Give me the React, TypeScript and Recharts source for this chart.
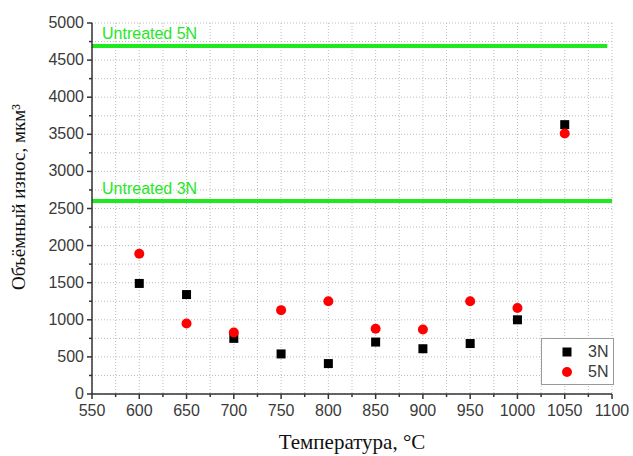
import React from "react";
import {
  ScatterChart,
  Scatter,
  XAxis,
  YAxis,
  CartesianGrid,
  ReferenceLine,
} from "recharts";

// температура, °C
const temperatures = [600, 650, 700, 750, 800, 850, 900, 950, 1000, 1050];
// объёмный износ, мкм³
const wear3N = [1490, 1340, 750, 540, 410, 700, 610, 680, 1000, 3630];
const wear5N = [1890, 950, 830, 1130, 1250, 880, 870, 1250, 1160, 3510];

const untreated5N = 4690;
const untreated3N = 2600;

const xTicks: number[] = [];
for (let t = 550; t <= 1100; t += 25) xTicks.push(t);
const yTicks: number[] = [];
for (let v = 0; v <= 5000; v += 250) yTicks.push(v);

const data3N = temperatures.map((x, i) => ({ x, y: wear3N[i] }));
const data5N = temperatures.map((x, i) => ({ x, y: wear5N[i] }));

const GREEN = "#1ee81e";
const AXIS = "#333";
const TICK_FONT = "'Liberation Sans', Arial, sans-serif";
const SERIF = "'Liberation Serif', 'Times New Roman', serif";

const XTick = (props: any) => {
  const { x, y, payload } = props;
  const major = payload.value % 50 === 0;
  return (
    <g>
      <line x1={x} y1={y} x2={x} y2={y + (major ? 5 : 3)} stroke={AXIS} strokeWidth={1.5} />
      {major && (
        <text x={x} y={y + 22} textAnchor="middle" fontSize={16} fill="#3a3a3a" fontFamily={TICK_FONT}>
          {payload.value}
        </text>
      )}
    </g>
  );
};

const YTick = (props: any) => {
  const { x, y, payload } = props;
  const major = payload.value % 500 === 0;
  return (
    <g>
      <line x1={x} y1={y} x2={x - (major ? 5 : 3)} y2={y} stroke={AXIS} strokeWidth={1.5} />
      {major && (
        <text x={x - 8} y={y + 5} textAnchor="end" fontSize={16} fill="#3a3a3a" fontFamily={TICK_FONT}>
          {payload.value}
        </text>
      )}
    </g>
  );
};

const Square = (props: any) => {
  const { cx, cy } = props;
  return <rect x={cx - 4.5} y={cy - 4.5} width={9} height={9} fill="#000" />;
};

const Dot = (props: any) => {
  const { cx, cy } = props;
  return <circle cx={cx} cy={cy} r={5} fill="#ff0000" />;
};

const lineLabel = (text: string) => (props: any) => {
  const { viewBox } = props;
  return (
    <text x={viewBox.x + 10} y={viewBox.y - 7} fontSize={16} fill={GREEN} fontFamily={TICK_FONT}>
      {text}
    </text>
  );
};

export default function App() {
  return (
    <div style={{ position: "absolute", left: 0, top: 0, width: 633, height: 456, background: "#fff" }}>
      <ScatterChart width={633} height={456} margin={{ top: 23, right: 21, bottom: 32, left: 42 }}>
        <CartesianGrid stroke="#bdbdbd" strokeDasharray="1 2" />
        <XAxis
          type="number"
          dataKey="x"
          domain={[550, 1100]}
          ticks={xTicks}
          interval={0}
          tickSize={0}
          tickMargin={0}
          tickLine={false}
          tick={<XTick />}
          height={30}
          axisLine={{ stroke: AXIS, strokeWidth: 1.5 }}
          allowDataOverflow
        />
        <YAxis
          type="number"
          dataKey="y"
          domain={[0, 5000]}
          ticks={yTicks}
          interval={0}
          tickSize={0}
          tickMargin={0}
          tickLine={false}
          tick={<YTick />}
          width={50}
          axisLine={{ stroke: AXIS, strokeWidth: 1.5 }}
          allowDataOverflow
        />
        <ReferenceLine
          segment={[{ x: 550, y: untreated5N }, { x: 1095, y: untreated5N }]}
          stroke={GREEN}
          strokeWidth={4}
          label={lineLabel("Untreated 5N")}
        />
        <ReferenceLine
          segment={[{ x: 550, y: untreated3N }, { x: 1100, y: untreated3N }]}
          stroke={GREEN}
          strokeWidth={4}
          label={lineLabel("Untreated 3N")}
        />
        <Scatter name="3N" data={data3N} shape={<Square />} isAnimationActive={false} />
        <Scatter name="5N" data={data5N} shape={<Dot />} isAnimationActive={false} />
        {/* легенда */}
        <g>
          <rect x={541.5} y={338.5} width={72} height={46} fill="#fff" stroke="#999" strokeWidth={1} />
          <rect x={562.5} y={347.5} width={9} height={9} fill="#000" />
          <circle cx={567} cy={372} r={5} fill="#ff0000" />
          <text x={588} y={357} fontSize={16} fill="#3a3a3a" fontFamily={TICK_FONT}>3N</text>
          <text x={588} y={377} fontSize={16} fill="#3a3a3a" fontFamily={TICK_FONT}>5N</text>
        </g>
        <text
          x={18}
          y={197}
          transform="rotate(-90 18 197)"
          textAnchor="middle"
          dominantBaseline="central"
          fontSize={19}
          fontFamily={SERIF}
          fill="#111"
        >
          Объёмный износ, мкм³
        </text>
        <text x={352} y={449} textAnchor="middle" fontSize={21} fontFamily={SERIF} fill="#111">
          Температура, °C
        </text>
      </ScatterChart>
    </div>
  );
}
